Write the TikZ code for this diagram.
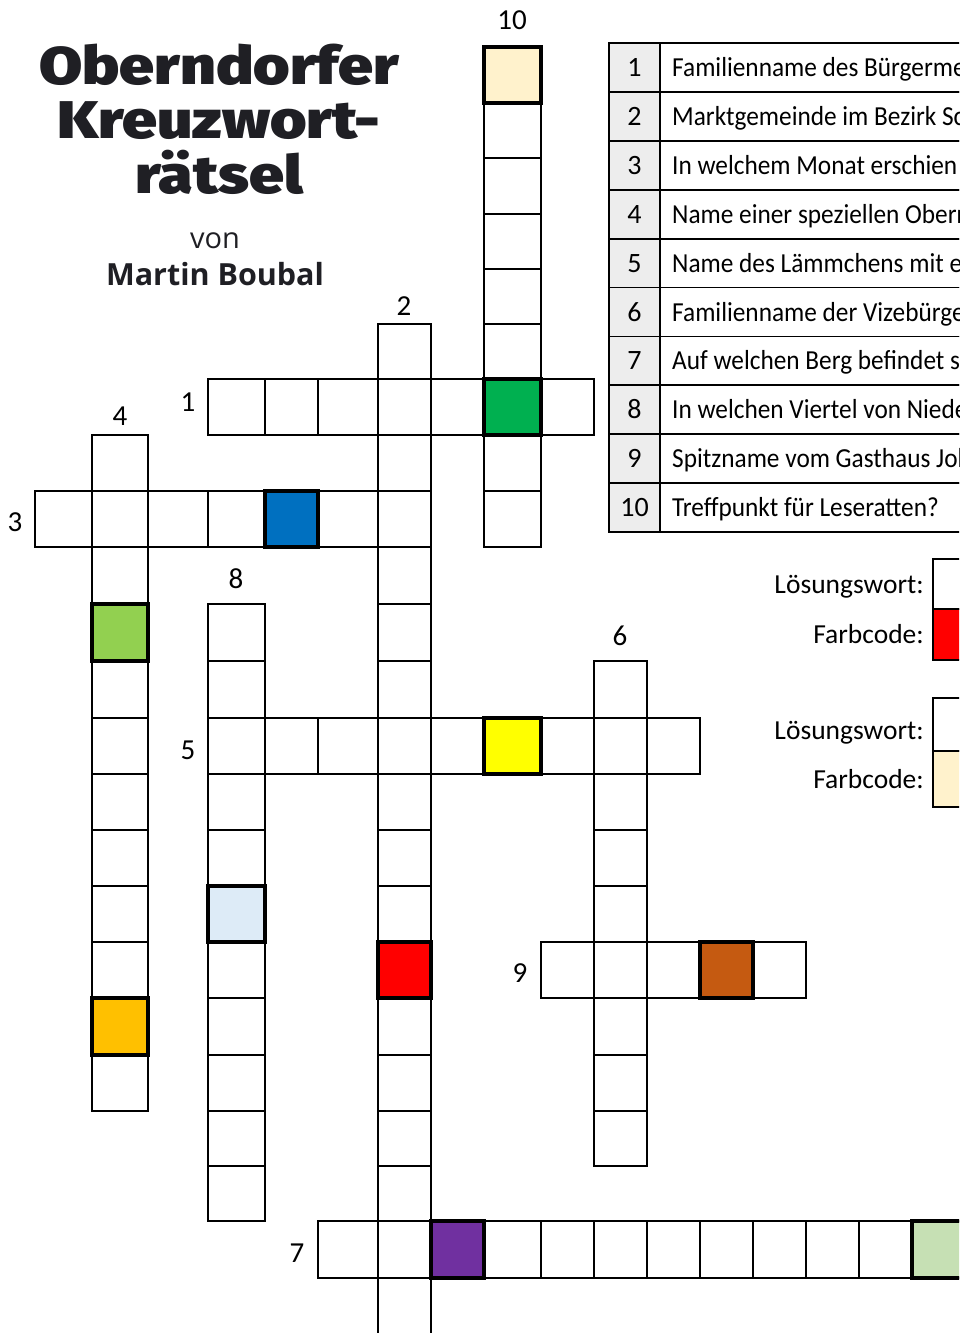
\documentclass[tikz,border=0pt]{standalone}
\usepackage{fontspec}
\usepackage{tikz}
\usetikzlibrary{positioning}
\setmainfont{Carlito}
\newfontfamily\cluefont{Carlito}[FakeStretch=0.92]
\newfontfamily\authorfont{Open Sans}
\IfFontExistsTF{Fira Sans Black}{\newfontfamily\titlefont{Fira Sans Black}[FakeStretch=1.18]}
 {\IfFontExistsTF{Fira Sans Heavy}{\newfontfamily\titlefont{Fira Sans Heavy}[FakeStretch=1.18]}
 {\newfontfamily\titlebase{Fira Sans}[FakeStretch=1.18]\newcommand\titlefont{\titlebase\bfseries}}}
\definecolor{cellcream}{HTML}{FFF2CC}
\definecolor{cellgreen}{HTML}{00B050}
\definecolor{cellblue}{HTML}{0070C0}
\definecolor{celllime}{HTML}{92D050}
\definecolor{cellyellow}{HTML}{FFFF00}
\definecolor{cellsky}{HTML}{DDEBF7}
\definecolor{cellred}{HTML}{FF0000}
\definecolor{cellamber}{HTML}{FFC000}
\definecolor{cellbrown}{HTML}{C55A11}
\definecolor{cellpurple}{HTML}{7030A0}
\definecolor{cellsage}{HTML}{C6E0B4}
\definecolor{tablegray}{HTML}{EDEDED}
\definecolor{titleink}{HTML}{1F1F24}
\def\colx{{35,92,148,208,265,318,378,431,484,541,594,647,700,753,806,859,912,965}}
\def\rowy{{47,103,158,214,269,324,379,435,491,547,604,661,718,774,830,886,942,998,1055,1111,1166,1221,1278,1334}}
\newcommand\cellat[3][gridline]{%
 \pgfmathsetmacro\xa{\colx[#2]}\pgfmathsetmacro\xb{\colx[#2+1]}%
 \pgfmathsetmacro\ya{\rowy[#3]}\pgfmathsetmacro\yb{\rowy[#3+1]}%
 \draw[#1] (\xa,\ya) rectangle (\xb,\yb);}

\begin{document}
\begin{tikzpicture}[x=1pt,y=-1pt, every node/.style={inner sep=0pt,font=\fontsize{29}{32}\selectfont}, gridline/.style={draw,line width=1.8pt,fill=white}, keycell/.style={draw,line width=3.8pt,fill=#1}, tableline/.style={draw,line width=1.8pt}, sidebox/.style={draw,line width=2.2pt}, titletext/.style={anchor=base,text=titleink,font=\titlefont\fontsize{53}{55}\selectfont}, cluetext/.style={anchor=base west,font=\cluefont\fontsize{27.5}{30}\selectfont}, keytext/.style={anchor=base,font=\fontsize{28}{30}\selectfont}, sidetext/.style={anchor=base east,font=\fontsize{27.5}{30}\selectfont}]
\path[use as bounding box] (0,0) rectangle (959,1333);
\clip (0,0) rectangle (959,1333);
\node[titletext] (title1) at (219,84) {Oberndorfer};
\node[titletext] (title2) at (219,138) {Kreuzwort-};
\node[titletext] (title3) at (219,193) {rätsel};
\node[anchor=base,text=titleink,font=\authorfont\fontsize{29}{32}\selectfont] (von) at (215,248) {von};
\node[anchor=base,text=titleink,font=\authorfont\bfseries\fontsize{30.5}{32}\selectfont] (author) at (215,285) {Martin Boubal};
\foreach \r in {0,...,8} {\cellat{8}{\r}}
\foreach \c in {3,...,9} {\cellat{\c}{6}}
\foreach \r in {5,...,22} {\cellat{6}{\r}}
\foreach \r in {7,...,18} {\cellat{1}{\r}}
\foreach \c in {0,...,6} {\cellat{\c}{8}}
\foreach \r in {10,...,20} {\cellat{3}{\r}}
\foreach \c in {3,...,11} {\cellat{\c}{12}}
\foreach \r in {11,...,19} {\cellat{10}{\r}}
\foreach \c in {9,...,13} {\cellat{\c}{16}}
\foreach \c in {5,...,16} {\cellat{\c}{21}}
\foreach \c/\r/\f in {8/0/cellcream,8/6/cellgreen,4/8/cellblue,1/10/celllime,8/12/cellyellow,3/15/cellsky,6/16/cellred,1/17/cellamber,12/16/cellbrown,7/21/cellpurple,16/21/cellsage} {\cellat[keycell=\f]{\c}{\r}}
\node[anchor=base] (num10) at (512,29) {10};
\node[anchor=base] (num2) at (404,315) {2};
\node[anchor=base] (num1) at (188,411) {1};
\node[anchor=base] (num4) at (120,425) {4};
\node[anchor=base] (num3) at (15,531) {3};
\node[anchor=base] (num8) at (236,588) {8};
\node[anchor=base] (num6) at (620,645) {6};
\node[anchor=base] (num5) at (188,759) {5};
\node[anchor=base] (num9) at (520,982) {9};
\node[anchor=base] (num7) at (297,1262) {7};
\foreach \i/\clue in {1/Familienname des Bürgerme,2/Marktgemeinde im Bezirk Sc,3/In welchem Monat erschien,4/Name einer speziellen Oberr,5/Name des Lämmchens mit ei,6/Familienname der Vizebürge,7/Auf welchen Berg befindet si,8/In welchen Viertel von Niede,9/Spitzname vom Gasthaus Joh,10/Treffpunkt für Leseratten?} {
 \pgfmathsetmacro\rowtop{43+48.9*(\i-1)}
 \fill[tablegray] (609,\rowtop) rectangle (660,\rowtop+48.9);
 \draw[tableline] (609,\rowtop) rectangle (990,\rowtop+48.9) (660,\rowtop) -- (660,\rowtop+48.9);
 \node[keytext] (key\i) at (634.5,\rowtop+33.5) {\i};
 \node[cluetext] (clue\i) at (672,\rowtop+33.5) {\clue};
}
\draw[sidebox] (933,559) rectangle (990,609);
\draw[sidebox,fill=cellred] (933,609) rectangle (990,660);
\draw[sidebox] (933,698) rectangle (990,751);
\draw[sidebox,fill=cellcream] (933,751) rectangle (990,807);
\node[sidetext] (word1) at (924,593) {Lösungswort:};
\node[sidetext] (code1) at (924,643) {Farbcode:};
\node[sidetext] (word2) at (924,739) {Lösungswort:};
\node[sidetext] (code2) at (924,788) {Farbcode:};
\end{tikzpicture}
\end{document}
